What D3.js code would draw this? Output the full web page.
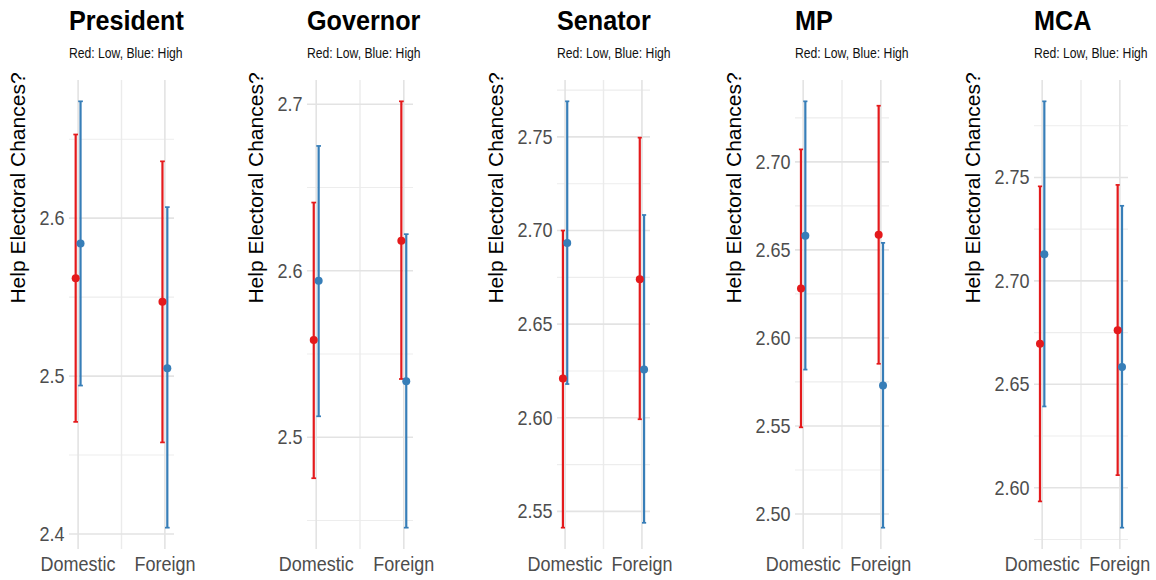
<!DOCTYPE html>
<html>
<head>
<meta charset="utf-8">
<script src="https://cdn.jsdelivr.net/npm/d3@7"></script>
<style>
  body { margin: 0; background: #fff; }
  svg text { font-family: "Liberation Sans", Arial, sans-serif; }
</style>
</head>
<body>
<script>
// data: one row per office, [Domestic, Foreign]
var offices = ["President", "Governor", "Senator", "MP", "MCA"];
var origins = ["Domestic", "Foreign"];

var meanLow   = [[2.562, 2.547], [2.5585, 2.618], [2.621, 2.674], [2.628, 2.6586], [2.6696, 2.6761]];
var lowerLow  = [[2.471, 2.458], [2.4754, 2.535], [2.5413, 2.5992], [2.5492, 2.5853], [2.5934, 2.6061]];
var upperLow  = [[2.653, 2.636], [2.641, 2.7018], [2.700, 2.7496], [2.7071, 2.7319], [2.7457, 2.7464]];

var meanHigh  = [[2.584, 2.505], [2.594, 2.5337], [2.6933, 2.6258], [2.658, 2.5729], [2.7129, 2.6584]];
var lowerHigh = [[2.494, 2.404], [2.5126, 2.4457], [2.618, 2.5439], [2.582, 2.4922], [2.6393, 2.5807]];
var upperHigh = [[2.674, 2.607], [2.675, 2.622], [2.769, 2.7083], [2.7344, 2.654], [2.7868, 2.7363]];

var majorTicks = [[2.4, 2.5, 2.6], [2.5, 2.6, 2.7], [2.55, 2.60, 2.65, 2.70, 2.75],
                  [2.50, 2.55, 2.60, 2.65, 2.70], [2.60, 2.65, 2.70, 2.75]];
var tickDigits = [1, 1, 2, 2, 2];

var subtitle = "Red: Low, Blue: High";
var yTitle = "Help Electoral Chances?";

// layout
var W = 1156, H = 580;
var panelLeft  = [69, 307, 557, 795, 1034];
var panelRight = [174, 413, 650, 889, 1128];
var panelTop = 80, panelBottom = 549;
var squeeze = 0.9;   // the picture's text is a bit narrow
var red = "#E41A1C", blue = "#377EB8";

var svg = d3.select("body").append("svg")
    .attr("width", W).attr("height", H);

for (var i = 0; i < offices.length; i++) drawPanel(i);

function drawPanel(i){
    var g = svg.append("g");
    var left = panelLeft[i], right = panelRight[i];

    var x = d3.scalePoint().domain(origins).range([left, right]).padding(0.105);
    var lo = d3.min(lowerLow[i].concat(lowerHigh[i]));
    var hi = d3.max(upperLow[i].concat(upperHigh[i]));
    var pad = (hi - lo) * 0.05;
    var y = d3.scaleLinear().domain([lo - pad, hi + pad]).range([panelBottom, panelTop]);

    var major = majorTicks[i];
    var step = major[1] - major[0];
    var minor = major.map(function(v){ return v - step / 2; })
        .concat([major[major.length - 1] + step / 2])
        .filter(function(v){ return v >= y.domain()[0] && v <= y.domain()[1]; });

    // grid
    g.selectAll(".minor").data(minor).enter().append("line")
        .attr("x1", left).attr("x2", right)
        .attr("y1", function(d){ return y(d); }).attr("y2", function(d){ return y(d); })
        .attr("stroke", "#ededed").attr("stroke-width", 1.1);
    g.append("line")
        .attr("x1", (x("Domestic") + x("Foreign")) / 2).attr("x2", (x("Domestic") + x("Foreign")) / 2)
        .attr("y1", panelTop).attr("y2", panelBottom)
        .attr("stroke", "#ebebeb").attr("stroke-width", 1.4);
    g.selectAll(".major").data(major).enter().append("line")
        .attr("x1", left).attr("x2", right)
        .attr("y1", function(d){ return y(d); }).attr("y2", function(d){ return y(d); })
        .attr("stroke", "#e3e3e3").attr("stroke-width", 1.6);
    g.selectAll(".vmajor").data(origins).enter().append("line")
        .attr("x1", function(d){ return x(d); }).attr("x2", function(d){ return x(d); })
        .attr("y1", panelTop).attr("y2", panelBottom)
        .attr("stroke", "#e3e3e3").attr("stroke-width", 1.6);

    // y tick labels
    var yAxis = g.append("g")
        .attr("transform", "translate(" + left + ",0)")
        .call(d3.axisLeft(y).tickValues(major).tickSize(0).tickPadding(5)
              .tickFormat(d3.format("." + tickDigits[i] + "f")));
    yAxis.select(".domain").remove();
    yAxis.selectAll("text")
        .attr("font-size", 20).attr("fill", "#4d4d4d")
        .attr("font-family", "Liberation Sans, Arial, sans-serif")
        .attr("transform", "scale(" + squeeze + ",1)");

    var maxW = 0;
    yAxis.selectAll("text").each(function(){
        maxW = Math.max(maxW, this.getComputedTextLength() * squeeze);
    });

    // x tick labels
    g.selectAll(".xlab").data(origins).enter().append("text")
        .attr("transform", function(d){ return "translate(" + x(d) + ",571) scale(" + squeeze + ",1)"; })
        .attr("text-anchor", "middle")
        .attr("font-size", 20).attr("fill", "#4d4d4d")
        .text(function(d){ return d; });

    // titles
    g.append("text")
        .attr("transform", "translate(" + left + ",30) scale(" + squeeze + ",1)")
        .attr("font-size", 28).style("font-weight", "bold").attr("fill", "#000")
        .text(offices[i]);
    g.append("text")
        .attr("transform", "translate(" + left + ",58) scale(0.87,1)")
        .attr("font-size", 14).attr("fill", "#111")
        .text(subtitle);

    // y title
    var yl = left - 5 - maxW - 21;
    g.append("text")
        .attr("transform", "translate(" + yl + ",188) rotate(-90)")
        .attr("text-anchor", "middle").attr("dominant-baseline", "central")
        .attr("font-size", 21).attr("fill", "#000")
        .text(yTitle);

    // marks
    var dodge = x.step() * 0.028;
    var cap = x.step() * 0.027;
    var rows = [];
    origins.forEach(function(o, j){
        rows.push({ origin: o, shift: -dodge, col: red,
                    mean: meanLow[i][j], lower: lowerLow[i][j], upper: upperLow[i][j] });
        rows.push({ origin: o, shift: dodge, col: blue,
                    mean: meanHigh[i][j], lower: lowerHigh[i][j], upper: upperHigh[i][j] });
    });

    var bars = g.selectAll(".bar").data(rows).enter().append("g");
    bars.append("line")
        .attr("x1", function(d){ return x(d.origin) + d.shift; })
        .attr("x2", function(d){ return x(d.origin) + d.shift; })
        .attr("y1", function(d){ return y(d.lower); })
        .attr("y2", function(d){ return y(d.upper); })
        .attr("stroke", function(d){ return d.col; }).attr("stroke-width", 2.2);
    ["lower", "upper"].forEach(function(k){
        bars.append("line")
            .attr("x1", function(d){ return x(d.origin) + d.shift - cap; })
            .attr("x2", function(d){ return x(d.origin) + d.shift + cap; })
            .attr("y1", function(d){ return y(d[k]); })
            .attr("y2", function(d){ return y(d[k]); })
            .attr("stroke", function(d){ return d.col; }).attr("stroke-width", 1.7);
    });

    g.selectAll(".pt").data(rows).enter().append("circle")
        .attr("cx", function(d){ return x(d.origin) + d.shift; })
        .attr("cy", function(d){ return y(d.mean); })
        .attr("r", 4)
        .attr("fill", function(d){ return d.col; });
}
</script>
</body>
</html>
